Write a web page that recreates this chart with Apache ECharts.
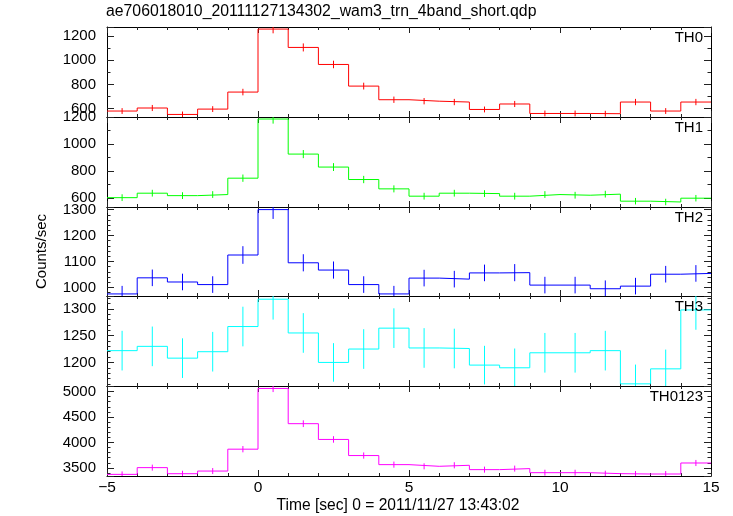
<!DOCTYPE html>
<html><head><meta charset="utf-8">
<script src="https://cdn.jsdelivr.net/npm/echarts@6/dist/echarts.min.js"></script>
<style>html,body{margin:0;padding:0;background:#fff}#c{width:733px;height:516px}</style>
</head><body><div id="c"></div>
<script>
// ---- data ----
const binCenters = [-4.5,-3.5,-2.5,-1.5,-0.5,0.5,1.5,2.5,3.5,4.5,5.5,6.5,7.5,8.5,9.5,10.5,11.5,12.5,13.5,14.5];
const binHalfWidth = 0.5;

const th0    = [581,606,553,597,737,1255,1104,964,786,674,662,655,594,639,561,561,559,655,581,655];
const th0Err = [24,25,24,24,27,35,33,31,28,26,26,26,24,25,24,24,24,26,24,26];

const th1    = [604,637,619,627,748,1185,926,830,738,669,615,637,634,615,627,622,630,578,572,600];
const th1Err = [25,25,25,25,27,34,30,29,27,26,25,25,25,25,25,25,25,24,24,24];

const th2    = [975,1037,1021,1011,1125,1300,1095,1067,1011,975,1036,1032,1056,1057,1009,1009,995,1005,1051,1054];
const th2Err = [31,32,32,32,34,36,33,33,32,31,32,32,32,33,32,32,32,32,32,32];

const th3    = [1222,1230,1208,1220,1267,1318,1255,1200,1225,1264,1227,1226,1195,1190,1218,1218,1222,1160,1188,1298];
const th3Err = [37,37,37,37,37,38,37,36,37,37,37,37,36,36,37,37,37,36,36,37];

const th0123    = [3374,3506,3387,3439,3868,5059,4368,4059,3743,3565,3532,3552,3467,3487,3407,3407,3388,3381,3381,3597];
const th0123Err = [58,59,58,59,62,71,66,64,61,60,59,60,59,59,58,58,58,58,58,60];

const panelNames  = ['TH0','TH1','TH2','TH3','TH0123'];
const panelValues = [th0, th1, th2, th3, th0123];
const panelErrors = [th0Err, th1Err, th2Err, th3Err, th0123Err];
const panelColors = ['#ff0000','#00ff00','#0000ff','#00ffff','#ff00ff'];
const yMin        = [532, 535, 967, 1156, 3342];
const yMax        = [1272, 1200, 1310, 1324, 5107];
const yMajor      = [200, 200, 100, 50, 500];
const yMinorSplit = [2, 2, 5, 5, 5];
const xRange = [-5, 15];
const xMajor = 5;
const titleText = 'ae706018010_20111127134302_wam3_trn_4band_short.qdp';
const yAxisTitle = 'Counts/sec';
const xAxisTitle = 'Time [sec] 0 = 2011/11/27 13:43:02';

// ---- layout ----
const FONT = '"Liberation Sans", Arial, Helvetica, sans-serif';
const panelTop = [27, 117, 207, 296, 386];
const panelH   = [90, 90, 89, 90, 90];
const LEFT = 107, RIGHT = 22;

const grids = [], xAxes = [], yAxes = [], series = [], titles = [];
titles.push({text: titleText, left: 106, top: 4, padding: 0,
  textStyle: {fontFamily: FONT, fontSize: 15.8, fontWeight: 'normal', color: '#000'}});

function errRender(params, api) {
  const x = api.value(0), y = api.value(1), e = api.value(2);
  const p1 = api.coord([x, y + e]);
  const p2 = api.coord([x, y - e]);
  return {type: 'line', shape: {x1: p1[0], y1: p1[1], x2: p2[0], y2: p2[1]},
    style: {stroke: api.visual('color'), lineWidth: 1}};
}

for (let k = 0; k < 5; k++) {
  const last = k === 4;
  grids.push({left: LEFT, right: RIGHT, top: panelTop[k], height: panelH[k], outerBoundsMode: 'none', containLabel: false});
  const xBase = {
    type: 'value', gridIndex: k, min: xRange[0], max: xRange[1], interval: xMajor,
    axisLine: {show: true, onZero: false, lineStyle: {color: '#000', width: 1}},
    axisTick: {show: true, inside: true, length: 6, lineStyle: {color: '#222'}},
    minorTick: {show: true, splitNumber: 5, length: 3, lineStyle: {color: '#222'}},
    splitLine: {show: false}, minorSplitLine: {show: false}
  };
  xAxes.push(Object.assign({}, xBase, {
    position: 'bottom',
    axisLabel: {show: last, margin: 4, fontFamily: FONT, fontSize: 15.5, color: '#000',
      formatter: v => String(v).replace('-', '\u2212')},
    name: last ? xAxisTitle : '', nameLocation: 'middle', nameGap: 22,
    nameTextStyle: {fontFamily: FONT, fontSize: 15.6, color: '#000', padding: [0, 22, 0, 0]}
  }));
  xAxes.push(Object.assign({}, xBase, {position: 'top', axisLabel: {show: false}}));

  const yBase = {
    type: 'value', gridIndex: k, min: yMin[k], max: yMax[k],
    minInterval: yMajor[k], maxInterval: yMajor[k], splitNumber: 4,
    axisLine: {show: true, onZero: false, lineStyle: {color: '#000', width: 1}},
    axisTick: {show: true, inside: true, length: 7, lineStyle: {color: '#222'}},
    minorTick: {show: true, splitNumber: yMinorSplit[k], length: 3.5, lineStyle: {color: '#222'}},
    splitLine: {show: false}, minorSplitLine: {show: false}
  };
  const maj = yMajor[k];
  yAxes.push(Object.assign({}, yBase, {
    position: 'left',
    axisLabel: {show: true, margin: 11, fontFamily: FONT, fontSize: 15, color: '#000',
      showMinLabel: true, showMaxLabel: true,
      formatter: v => (Math.abs(v / maj - Math.round(v / maj)) < 1e-6 ? String(v) : '')},
    name: k === 2 ? yAxisTitle : '', nameLocation: 'middle', nameGap: 58,
    nameTextStyle: {fontFamily: FONT, fontSize: 15, color: '#000'}
  }));
  yAxes.push(Object.assign({}, yBase, {position: 'right', axisLabel: {show: false}}));

  titles.push({text: panelNames[k], right: 30, top: panelTop[k] + 3, padding: 0,
    textStyle: {fontFamily: FONT, fontSize: 15, fontWeight: 'normal', color: '#000'}});

  const vals = panelValues[k], errs = panelErrors[k];
  const stepData = binCenters.map((c, i) => [c - binHalfWidth, vals[i]]);
  stepData.push([binCenters[binCenters.length - 1] + binHalfWidth, vals[vals.length - 1]]);
  series.push({
    type: 'line', name: panelNames[k], xAxisIndex: 2 * k, yAxisIndex: 2 * k,
    data: stepData, step: 'end', showSymbol: false, symbol: 'none', clip: true,
    lineStyle: {color: panelColors[k], width: 1}, itemStyle: {color: panelColors[k]},
    silent: true, animation: false
  });
  series.push({
    type: 'custom', name: panelNames[k] + ' err', xAxisIndex: 2 * k, yAxisIndex: 2 * k,
    data: binCenters.map((c, i) => [c, vals[i], errs[i]]),
    renderItem: errRender, clip: true, itemStyle: {color: panelColors[k]},
    encode: {x: 0, y: 1}, silent: true, animation: false
  });
}

const chart = echarts.init(document.getElementById('c'), null, {renderer: 'canvas'});
chart.setOption({
  backgroundColor: '#fff', animation: false,
  title: titles, grid: grids, xAxis: xAxes, yAxis: yAxes, series: series
});
</script></body></html>
